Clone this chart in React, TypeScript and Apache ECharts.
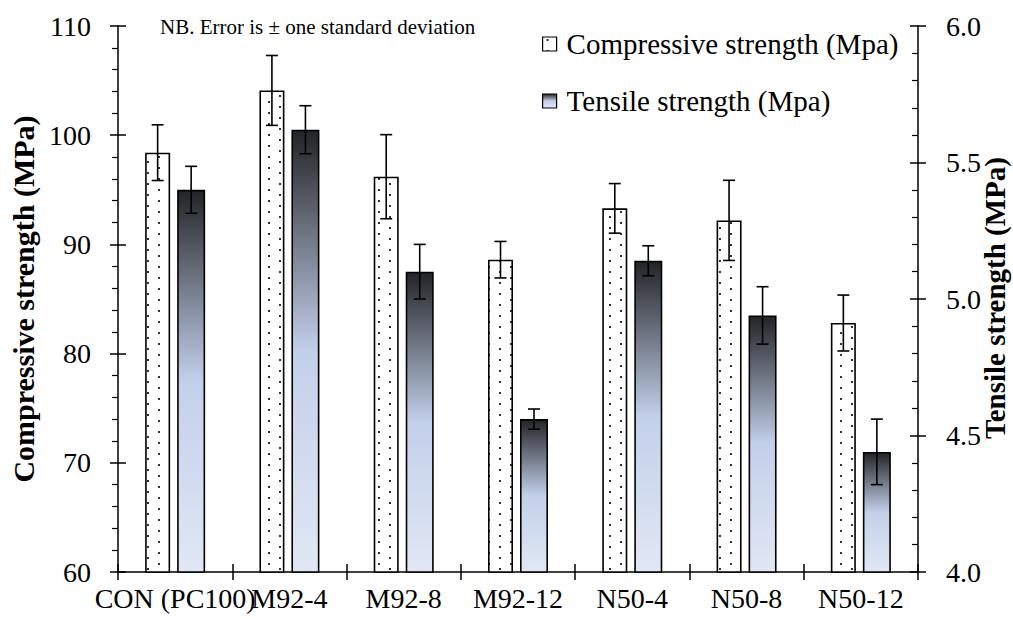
import React, { useEffect, useRef } from 'react';
import * as echarts from 'echarts';

const categories = ['CON (PC100)', 'M92-4', 'M92-8', 'M92-12', 'N50-4', 'N50-8', 'N50-12'];
const compressive = [98.4, 104.1, 96.2, 88.6, 93.3, 92.2, 82.8];
const compressiveSD = [2.55, 3.2, 3.85, 1.67, 2.27, 3.67, 2.56];
const tensile = [5.4, 5.62, 5.1, 4.56, 5.14, 4.94, 4.44];
const tensileSD = [0.086, 0.088, 0.1, 0.037, 0.055, 0.105, 0.12];
const leftTicks = { min: 60, max: 110, interval: 10 };
const rightTicks = { min: 4, max: 6, interval: 0.5 };
const seriesNames = ['Compressive strength (Mpa)', 'Tensile strength (Mpa)'];

const FONT = '"Times New Roman", "Liberation Serif", serif';
const COMP_W = 25;
const TENS_W = 28;
const GAP = 0.28;

function makeDots() {
  const c = document.createElement('canvas');
  c.width = 22;
  c.height = 11;
  const ctx = c.getContext('2d')!;
  ctx.fillStyle = '#ffffff';
  ctx.fillRect(0, 0, 22, 11);
  ctx.fillStyle = '#333333';
  ctx.fillRect(4, 2, 2, 2);
  ctx.fillRect(15, 7, 2, 2);
  return c;
}

export default function App() {
  const ref = useRef<HTMLDivElement>(null);
  useEffect(() => {
    const chart = echarts.init(ref.current!, null, { renderer: 'svg' });
    const widthSum = COMP_W * (1 + GAP) + TENS_W;
    const compOff = -widthSum / 2 + COMP_W / 2;
    const tensOff = -widthSum / 2 + COMP_W * (1 + GAP) + TENS_W / 2;
    const line = { color: '#000', width: 1.5 };

    const errRender = (offset: number) => (params: any, api: any) => {
      const i = api.value(0);
      const m = api.value(1);
      const s = api.value(2);
      const top = api.coord([i, m + s]);
      const bot = api.coord([i, m - s]);
      const x = top[0] + offset;
      const style = { stroke: '#000', lineWidth: 1.6 };
      return {
        type: 'group',
        children: [
          { type: 'line', shape: { x1: x, y1: top[1], x2: x, y2: bot[1] }, style },
          { type: 'line', shape: { x1: x - 6, y1: top[1], x2: x + 6, y2: top[1] }, style },
          { type: 'line', shape: { x1: x - 6, y1: bot[1], x2: x + 6, y2: bot[1] }, style },
        ],
      };
    };

    const gradient = new echarts.graphic.LinearGradient(0, 0, 0, 1, [
      { offset: 0, color: '#232427' },
      { offset: 0.5, color: '#c3d0ea' },
      { offset: 1, color: '#e1e7f4' },
    ]);

    const option: any = {
      animation: false,
      backgroundColor: '#ffffff',
      textStyle: { fontFamily: FONT, color: '#000' },
      grid: { left: 118, right: 95, top: 26, bottom: 47, containLabel: false, outerBoundsMode: 'none' },
      legend: {
        orient: 'vertical',
        left: 537,
        top: 24,
        itemWidth: 14,
        itemHeight: 14,
        itemGap: 27,
        icon: 'rect',
        data: seriesNames,
        textStyle: { fontFamily: FONT, fontSize: 29, color: '#000', lineHeight: 30, padding: [0, 0, 0, 5] },
        itemStyle: { borderColor: '#000', borderWidth: 1.2 },
      },
      xAxis: [
        {
          type: 'category',
          data: categories,
          position: 'bottom',
          axisLine: { show: true, onZero: false, lineStyle: line },
          axisTick: { show: true, length: 8, lineStyle: line },
          axisLabel: { interval: 0, color: '#000', fontFamily: FONT, fontSize: 28, margin: 12 },
          splitLine: { show: false },
        },
        {
          type: 'category',
          data: categories,
          position: 'bottom',
          axisLine: { show: false, onZero: false },
          axisTick: { show: true, inside: true, length: 8, lineStyle: line },
          axisLabel: { show: false },
          splitLine: { show: false },
        },
      ],
      yAxis: [
        {
          type: 'value',
          ...leftTicks,
          position: 'left',
          axisLine: { show: true, lineStyle: line },
          axisTick: { show: true, length: 8, lineStyle: line },
          minorTick: { show: true, splitNumber: 5, length: 6, lineStyle: { color: '#000', width: 1.2 } },
          axisLabel: { color: '#000', fontFamily: FONT, fontSize: 28, margin: 27 },
          splitLine: { show: false },
          minorSplitLine: { show: false },
        },
        {
          type: 'value',
          ...rightTicks,
          position: 'right',
          axisLine: { show: true, lineStyle: line },
          axisTick: { show: true, inside: true, length: 8, lineStyle: line },
          minorTick: { show: true, splitNumber: 5, length: 6, lineStyle: { color: '#000', width: 1.2 } },
          axisLabel: {
            color: '#000',
            fontFamily: FONT,
            fontSize: 28,
            margin: 28,
            formatter: (v: number) => v.toFixed(1),
          },
          splitLine: { show: false },
          minorSplitLine: { show: false },
        },
        {
          type: 'value',
          ...leftTicks,
          position: 'left',
          axisLine: { show: false },
          axisTick: { show: true, inside: true, length: 8, lineStyle: line },
          axisLabel: { show: false },
          splitLine: { show: false },
        },
        {
          type: 'value',
          ...rightTicks,
          position: 'right',
          axisLine: { show: false },
          axisTick: { show: true, inside: false, length: 8, lineStyle: line },
          axisLabel: { show: false },
          splitLine: { show: false },
        },
      ],
      series: [
        {
          name: seriesNames[0],
          type: 'bar',
          xAxisIndex: 0,
          yAxisIndex: 0,
          data: compressive,
          barWidth: COMP_W,
          barGap: GAP * 100 + '%',
          itemStyle: { color: { image: makeDots(), repeat: 'repeat' }, borderColor: '#000', borderWidth: 1.6 },
          emphasis: { disabled: true },
        },
        {
          name: seriesNames[1],
          type: 'bar',
          xAxisIndex: 0,
          yAxisIndex: 1,
          data: tensile,
          barWidth: TENS_W,
          barGap: GAP * 100 + '%',
          itemStyle: { color: gradient, borderColor: '#000', borderWidth: 1.6 },
          emphasis: { disabled: true },
        },
        {
          name: 'errC',
          type: 'custom',
          xAxisIndex: 0,
          yAxisIndex: 0,
          z: 10,
          renderItem: errRender(compOff),
          encode: { x: 0, y: 1 },
          data: compressive.map((v, i) => [i, v, compressiveSD[i]]),
        },
        {
          name: 'errT',
          type: 'custom',
          xAxisIndex: 0,
          yAxisIndex: 1,
          z: 10,
          renderItem: errRender(tensOff),
          encode: { x: 0, y: 1 },
          data: tensile.map((v, i) => [i, v, tensileSD[i]]),
        },
      ],
      graphic: [
        {
          type: 'text',
          x: 160,
          y: 27,
          style: {
            text: 'NB. Error is ± one standard deviation',
            fontFamily: FONT,
            fontSize: 21,
            fill: '#000',
            align: 'left',
            verticalAlign: 'middle',
          },
        },
        {
          type: 'text',
          x: 23,
          y: 299,
          rotation: Math.PI / 2,
          style: {
            text: 'Compressive strength (MPa)',
            fontFamily: FONT,
            fontSize: 30,
            fontWeight: 'bold',
            fill: '#000',
            align: 'center',
            verticalAlign: 'middle',
          },
        },
        {
          type: 'text',
          x: 995,
          y: 298,
          rotation: Math.PI / 2,
          style: {
            text: 'Tensile strength (MPa)',
            fontFamily: FONT,
            fontSize: 29,
            fontWeight: 'bold',
            fill: '#000',
            align: 'center',
            verticalAlign: 'middle',
          },
        },
      ],
    };
    chart.setOption(option);
    return () => chart.dispose();
  }, []);
  return (
    <div
      ref={ref}
      style={{ position: 'fixed', left: 0, top: 0, width: 1013, height: 619, background: '#fff' }}
    />
  );
}
